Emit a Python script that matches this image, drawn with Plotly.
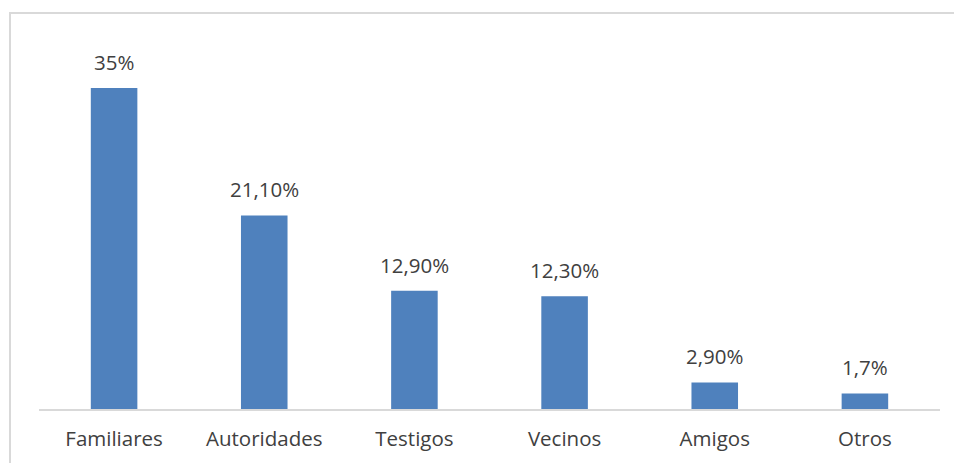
import plotly.graph_objects as go

categories = ["Familiares", "Autoridades", "Testigos", "Vecinos", "Amigos", "Otros"]
values = [35, 21.1, 12.9, 12.3, 2.9, 1.7]
labels = ["35%", "21,10%", "12,90%", "12,30%", "2,90%", "1,7%"]

fig = go.Figure(go.Bar(
    x=categories, y=values,
    marker=dict(color="#4F81BD", line=dict(width=0)),
    cliponaxis=False, width=0.31,
))
annotations = [dict(x=c, y=v, text=t, showarrow=False, yanchor="bottom", yshift=10,
                    font=dict(size=20.5, color="#404040", family="Open Sans"))
               for c, v, t in zip(categories, values, labels)]
fig.update_layout(
    width=954, height=463,
    margin=dict(l=39, r=14, t=42, b=54),
    paper_bgcolor="white", plot_bgcolor="white",
    showlegend=False,
    font=dict(family="Open Sans", color="#404040", size=20.5),
    xaxis=dict(showline=True, linecolor="#D9D9D9", linewidth=1.5, ticks="",
               tickfont=dict(size=20.5, color="#404040"), showgrid=False,
               ticklabelstandoff=11),
    yaxis=dict(range=[0, 40], visible=False, showgrid=False),
    annotations=annotations,
    shapes=[dict(type="rect", xref="paper", yref="paper",
                 x0=-29/901, x1=1.1, y0=-0.5, y1=(463-13-54)/367,
                 line=dict(color="#D9D9D9", width=2), fillcolor="rgba(0,0,0,0)", layer="below")],
)
fig.write_html("out.html", config={"displayModeBar": False},
               post_script="document.body.style.margin='0';")
